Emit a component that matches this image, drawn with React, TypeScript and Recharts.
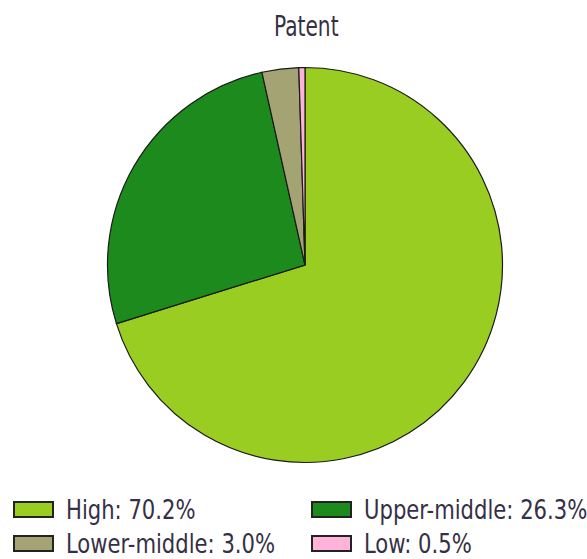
import { PieChart, Pie, Cell, Legend } from "recharts";

const categories = ["High", "Upper-middle", "Lower-middle", "Low"];
const shares = [70.2, 26.3, 3.0, 0.5];
const colors = ["#9acd22", "#1d8a1d", "#a3a373", "#ffb3d9"];

const data = categories.map((name, i) => ({ name, value: shares[i] }));

// narrow face is not installed, so the condensed one is squeezed a little
const FONT = '"Liberation Sans Narrow", "DejaVu Sans Condensed", sans-serif';
const TEXT_COLOR = "#353045";
const SQUEEZE = 0.87;

function LegendBlock() {
  return (
    <div style={{ position: "relative", width: 587, height: 64 }}>
      {data.map((d, i) => {
        const col = i % 2;
        const row = Math.floor(i / 2);
        return (
          <div
            key={d.name}
            style={{
              position: "absolute",
              left: col ? 311 : 13,
              top: 8 + row * 34,
              height: 17,
              display: "flex",
              alignItems: "center",
              whiteSpace: "nowrap",
            }}
          >
            <span
              style={{
                width: 37,
                height: 13,
                background: colors[i],
                border: "2px solid #222",
                display: "inline-block",
              }}
            />
            <span
              style={{
                marginLeft: 12,
                fontFamily: FONT,
                fontSize: 27,
                lineHeight: "17px",
                color: TEXT_COLOR,
                display: "inline-block",
                transform: `scaleX(${SQUEEZE})`,
                transformOrigin: "left center",
              }}
            >
              {`${d.name}: ${d.value.toFixed(1)}%`}
            </span>
          </div>
        );
      })}
    </div>
  );
}

export default function App() {
  return (
    <div style={{ position: "absolute", left: 0, top: 0, width: 587, height: 559, background: "#fff" }}>
      <div
        style={{
          position: "absolute",
          left: 0,
          top: 10,
          width: 612,
          textAlign: "center",
          fontFamily: FONT,
          fontSize: 28,
          lineHeight: "34px",
          color: TEXT_COLOR,
        }}
      >
        <span style={{ display: "inline-block", transform: "scaleX(0.8)" }}>Patent</span>
      </div>
      <PieChart width={587} height={559} margin={{ top: 0, right: 0, bottom: 0, left: 0 }}>
        <Pie
          data={data}
          dataKey="value"
          nameKey="name"
          cx={305}
          cy={265}
          outerRadius={197.5}
          startAngle={90}
          endAngle={-270}
          stroke="#1a1a1a"
          strokeWidth={1.2}
          isAnimationActive={false}
        >
          {data.map((d, i) => (
            <Cell key={d.name} fill={colors[i]} />
          ))}
        </Pie>
        <Legend
          content={() => <LegendBlock />}
          wrapperStyle={{ position: "absolute", left: 0, top: 493, width: 587, height: 64 }}
        />
      </PieChart>
    </div>
  );
}
